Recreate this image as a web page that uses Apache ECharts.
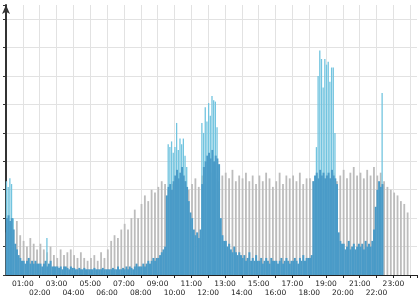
<!DOCTYPE html>
<html>
<head>
<meta charset="utf-8">
<style>html,body{margin:0;padding:0;background:#fff}#c{width:420px;height:300px}</style>
<script src="https://cdn.jsdelivr.net/npm/echarts@6/dist/echarts.min.js"></script>
</head>
<body>
<div id="c"></div>
<script>
// hour tick labels
const hourLabels = ['00:00','01:00','02:00','03:00','04:00','05:00','06:00','07:00','08:00','09:00','10:00','11:00',
  '12:00','13:00','14:00','15:00','16:00','17:00','18:00','19:00','20:00','21:00','22:00','23:00'];

// 6-minute bins (10 per hour) - main blue series
const blue = [
  2.0,2.1,1.9,2.0,1.6,1.1,0.9,0.7,0.6,0.5,
  0.5,0.4,0.5,0.6,0.4,0.5,0.4,0.5,0.4,0.4,
  0.4,0.3,0.4,0.5,0.3,0.4,0.5,0.3,0.3,0.3,
  0.3,0.25,0.3,0.2,0.3,0.3,0.25,0.2,0.3,0.25,
  0.25,0.2,0.2,0.25,0.2,0.2,0.25,0.2,0.2,0.2,
  0.2,0.2,0.25,0.2,0.2,0.2,0.2,0.25,0.2,0.2,
  0.2,0.2,0.2,0.25,0.2,0.2,0.3,0.2,0.2,0.25,
  0.2,0.3,0.2,0.3,0.25,0.2,0.3,0.4,0.3,0.3,
  0.3,0.4,0.3,0.4,0.5,0.4,0.5,0.6,0.5,0.6,
  0.6,0.7,0.8,0.9,1.0,2.8,3.1,3.2,3.0,3.3,
  3.5,3.7,3.4,3.6,3.8,3.5,3.3,3.1,2.6,2.2,
  2.0,1.6,1.4,1.5,1.3,1.6,3.2,3.8,4.0,4.2,
  4.3,4.1,4.4,4.0,4.2,4.1,3.9,2.0,1.4,1.2,
  1.2,1.0,1.1,0.9,0.8,1.0,0.8,0.7,0.8,0.7,
  0.6,0.7,0.5,0.6,0.8,0.5,0.6,0.5,0.7,0.5,
  0.5,0.6,0.4,0.5,0.6,0.5,0.4,0.6,0.5,0.5,
  0.5,0.4,0.5,0.6,0.4,0.5,0.6,0.5,0.4,0.5,
  0.5,0.6,0.5,0.4,0.6,0.5,0.7,0.5,0.6,0.6,
  0.6,0.7,3.3,3.5,3.6,3.4,3.7,3.5,3.6,3.4,
  3.5,3.6,3.4,3.7,3.5,3.4,3.2,1.5,1.2,1.1,
  1.1,0.9,1.0,1.2,0.9,1.0,1.1,0.9,1.0,1.1,
  1.0,1.1,0.9,1.2,1.0,1.1,1.0,1.2,1.6,2.4,
  3.0,3.3,3.1,3.2,0,0,0,0,0,0,
  0,0,0,0,0,0,0,0,0,0
];

// 6-minute bins - light blue peaks series
const lightBlue = [
  3.3,3.1,3.4,3.2,2.0,0,0,0,0,0,
  0,0,0,0,0,0,0,0,0,0,
  0,0,0,0,1.3,0,0,0,0,0,
  0,0,0,0,0,0,0,0,0,0,
  0,0,0,0,0,0,0,0,0,0,
  0,0,0,0,0,0,0,0,0,0,
  0,0,0,0,0,0,0,0,0,0,
  0,0,0,0,0,0,0,0,0,0,
  0,0,0,0,0,0,0,0,0,0,
  0,0,0,0,0,0,4.6,4.5,4.7,4.3,
  4.5,5.35,4.4,4.8,4.6,4.8,4.2,3.8,0,0,
  0,0,0,0,0,0,5.35,5.0,5.9,5.4,
  6.05,5.6,6.3,6.15,6.1,5.2,0,0,0,0,
  0,0,0,0,0,0,0,0,0,0,
  0,0,0,0,0,0,0,0,0,0,
  0,0,0,0,0,0,0,0,0,0,
  0,0,0,0,0,0,0,0,0,0,
  0,0,0,0,0,0,0,0,0,0,
  0,0,0,0,4.5,7.0,7.9,7.6,6.6,7.6,
  7.4,7.5,6.8,7.3,7.3,5.0,0,0,0,0,
  0,0,0,0,0,0,0,0,0,0,
  0,0,0,0,0,0,0,0,0,0,
  0,0,0,6.4,0,0,0,0,0,0,
  0,0,0,0,0,0,0,0,0,0
];

// 12-minute bins (5 per hour) - gray series
const gray = [
  1.5,1.8,1.6,1.9,1.4,
  1.2,1.0,1.3,1.1,0.9,
  1.1,0.9,0.8,1.0,0.7,
  0.6,0.9,0.7,0.8,0.9,
  0.7,0.6,0.8,0.6,0.5,
  0.6,0.7,0.5,0.8,0.6,
  0.9,1.2,1.4,1.3,1.6,
  1.8,1.6,2.0,2.3,2.0,
  2.5,2.8,2.6,3.0,2.9,
  3.1,3.3,3.2,3.0,3.2,
  3.4,3.2,3.5,3.3,3.0,
  3.2,3.4,3.1,3.5,3.3,
  3.5,3.6,3.4,3.3,3.5,
  3.6,3.4,3.7,3.3,3.5,
  3.4,3.6,3.3,3.5,3.2,
  3.5,3.3,3.6,3.4,3.1,
  3.3,3.6,3.2,3.5,3.4,
  3.5,3.3,3.6,3.2,3.4,
  3.4,3.3,3.5,3.6,3.4,
  3.5,3.4,3.6,3.3,3.5,
  3.7,3.4,3.6,3.8,3.5,
  3.6,3.4,3.7,3.5,3.8,
  3.5,3.6,3.3,3.1,3.0,
  2.9,2.8,2.6,2.5,2.2
];

const blueStep = 24 / blue.length;   // hours per bin
const grayStep = 24 / gray.length;

const blueData = blue.map((v, i) => [i * blueStep + blueStep / 2, v]).filter(d => d[1] > 0);
const lightData = lightBlue.map((v, i) => [i * blueStep + blueStep / 2, v]).filter(d => d[1] > 0);
const grayData = gray.map((v, i) => [i * grayStep + blueStep / 2, v]);

const chart = echarts.init(document.getElementById('c'), null, {renderer: 'canvas'});
chart.setOption({
  animation: false,
  backgroundColor: '#ffffff',
  grid: {left: 6, right: 0, top: 5, bottom: 25},
  xAxis: {
    type: 'value', min: 0, max: 24.4, interval: 1,
    axisLine: {show: true, onZero: false, lineStyle: {color: '#222', width: 1}},
    axisTick: {show: true, length: 3, lineStyle: {color: '#222'}},
    splitLine: {show: true, showMaxLine: false, lineStyle: {color: '#e2e2e2', width: 1}},
    axisLabel: {
      show: true, margin: 5, fontSize: 7.5, lineHeight: 8.5, color: '#222',
      fontFamily: 'DejaVu Sans',
      formatter: function (v) {
        const h = Math.round(v);
        if (Math.abs(v - h) > 1e-6 || h > 23) return '';
        return (h % 2 === 0 ? '\n' : '') + hourLabels[h];
      }
    }
  },
  yAxis: {
    type: 'value', min: 0, max: 9.5, interval: 1,
    axisLine: {show: true, symbol: ['none', 'arrow'], symbolSize: [6, 9], lineStyle: {color: '#333', width: 2}},
    axisTick: {show: true, length: 3, lineStyle: {color: '#333'}},
    axisLabel: {show: false},
    splitLine: {show: true, showMaxLine: false, lineStyle: {color: '#e2e2e2', width: 1}}
  },
  series: [
    {type: 'bar', name: 'gray', data: grayData, barWidth: 1.8, barGap: '-100%',
     itemStyle: {color: '#bcbcbc'}, z: 1},
    {type: 'bar', name: 'light', data: lightData, barWidth: 1.3, barGap: '-100%',
     itemStyle: {color: '#72c4df'}, z: 2},
    {type: 'bar', name: 'blue', data: blueData, barWidth: 2, barGap: '-100%',
     itemStyle: {color: '#4a9bc8'}, z: 3}
  ]
});
</script>
</body>
</html>
